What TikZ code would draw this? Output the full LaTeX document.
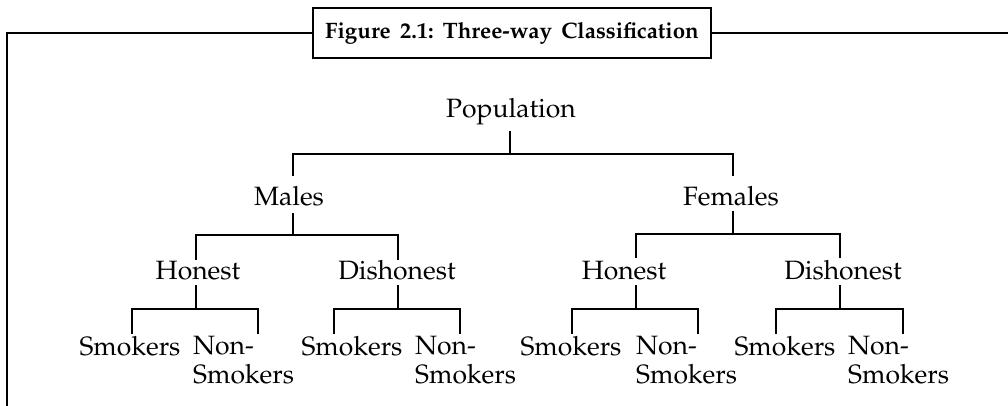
\documentclass[tikz,border=0pt]{standalone}
\usepackage[T1]{fontenc}
\usepackage{mathpazo}
\usetikzlibrary{calc}
\tikzset{
  lbl/.style={inner sep=0pt, anchor=base, font=\fontsize{26.5}{28.5}\selectfont},
  twoline/.style={inner sep=0pt, anchor=base west, align=left, font=\fontsize{26.5}{28.5}\selectfont},
  tree/.style={line width=1.4pt},
  frame/.style={line width=2.2pt},
  titlebox/.style={draw, line width=2.2pt, fill=white, minimum width=398pt, minimum height=50pt, inner sep=0pt, font=\fontsize{22.3}{24}\selectfont\bfseries}
}
\begin{document}
\begin{tikzpicture}[x=1pt,y=-1pt]
\useasboundingbox (0,0) rectangle (1008,405);
% frame
\node[titlebox] (title) at (512,33) {Figure\hspace{0.42em}2.1:\hspace{0.42em}Three-way\hspace{0.42em}Classification};
\coordinate (fbl) at (7,406);
\coordinate (fr) at (1009,33);
\draw[frame] (fbl) |- (title.west);
\draw[frame] (title.east) -- (fr);
% nodes
\node[lbl] (pop) at (511,117) {Population};
\node[lbl] (m) at (289,205) {Males};
\node[lbl] (f) at (731,205) {Females};
\node[lbl] (mh) at (198,279) {Honest};
\node[lbl] (md) at (397,279) {Dishonest};
\node[lbl] (fh) at (624,279) {Honest};
\node[lbl] (fd) at (843,279) {Dishonest};
\node[lbl] (mhs) at (130,355) {Smokers};
\node[twoline] (mhn) at (193,383) {Non-\\Smokers};
\node[lbl] (mds) at (352,355) {Smokers};
\node[twoline] (mdn) at (415,383) {Non-\\Smokers};
\node[lbl] (fhs) at (571,355) {Smokers};
\node[twoline] (fhn) at (636,383) {Non-\\Smokers};
\node[lbl] (fds) at (785,355) {Smokers};
\node[twoline] (fdn) at (848,383) {Non-\\Smokers};
% level 1
\draw[tree] ($(pop.base)+(-1,14)$) -- ($(pop.base)+(-1,37)$);
\draw[tree] ($(m.base)+(4,-29)$) |- ($(f.base)+(2,-51)$) -- ($(f.base)+(2,-29)$);
% level 2
\draw[tree] ($(m.base)+(4,8)$) -- ($(m.base)+(4,30)$);
\draw[tree] ($(mh.base)+(-2,-19)$) |- ($(md.base)+(1,-44)$) -- ($(md.base)+(1,-19)$);
\draw[tree] ($(f.base)+(2,6)$) -- ($(f.base)+(2,29)$);
\draw[tree] ($(fh.base)+(12,-21)$) |- ($(fd.base)+(-3,-45)$) -- ($(fd.base)+(-3,-21)$);
% level 3
\draw[tree] ($(mh.base)+(-2,6)$) -- ($(mh.base)+(-2,30)$);
\draw[tree] ($(mhs.base)+(2,-21)$) |- ($(mhn.base west)+(65,-74)$) -- ($(mhn.base west)+(65,-49)$);
\draw[tree] ($(md.base)+(1,6)$) -- ($(md.base)+(1,30)$);
\draw[tree] ($(mds.base)+(-18,-21)$) |- ($(mdn.base west)+(45,-74)$) -- ($(mdn.base west)+(45,-49)$);
\draw[tree] ($(fh.base)+(12,6)$) -- ($(fh.base)+(12,30)$);
\draw[tree] ($(fhs.base)+(1,-21)$) |- ($(fhn.base west)+(62,-74)$) -- ($(fhn.base west)+(62,-49)$);
\draw[tree] ($(fd.base)+(-3,6)$) -- ($(fd.base)+(-3,30)$);
\draw[tree] ($(fds.base)+(-9,-21)$) |- ($(fdn.base west)+(55,-74)$) -- ($(fdn.base west)+(55,-49)$);
\end{tikzpicture}
\end{document}
